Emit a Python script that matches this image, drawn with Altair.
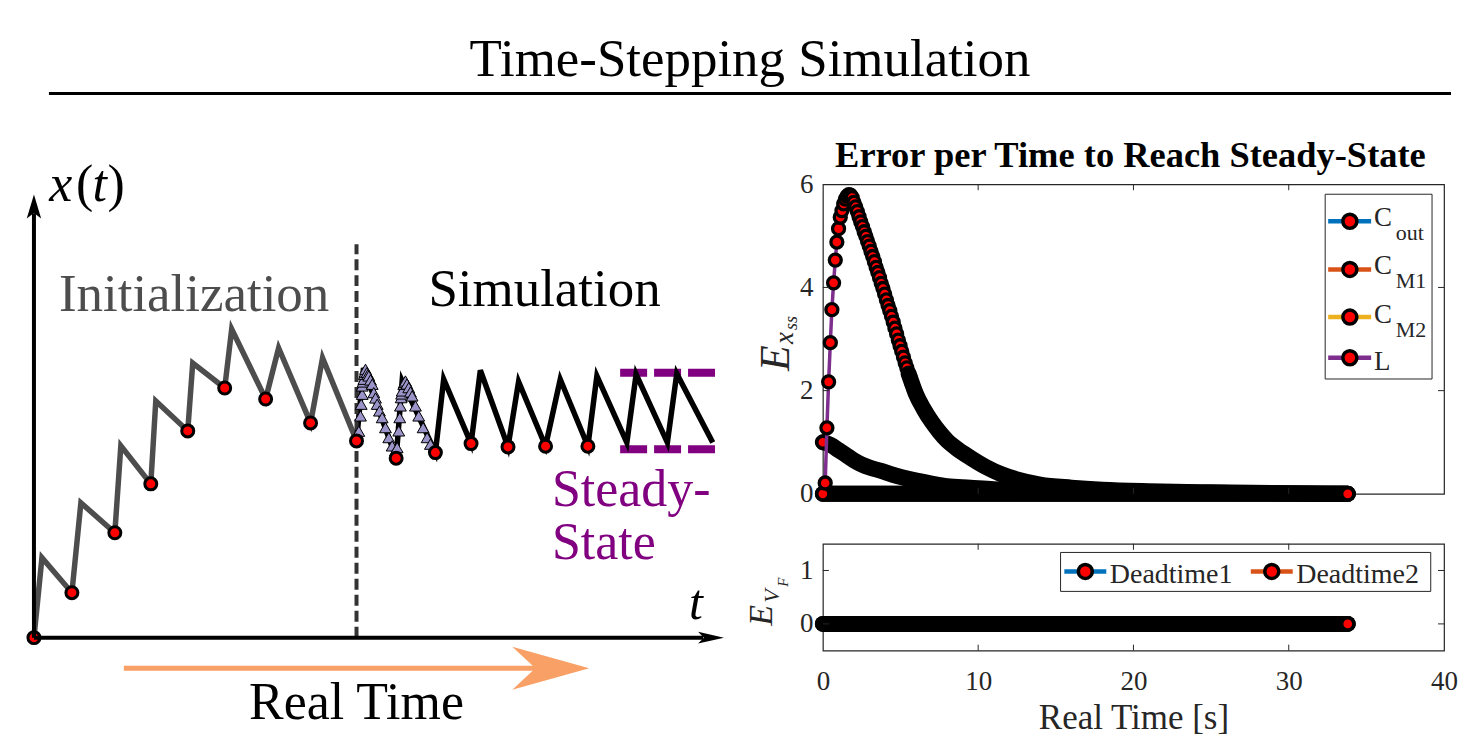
import altair as alt
import pandas as pd

FONT = "Liberation Serif"
INK = "#262626"

# ---------------- left schematic (u = horizontal, w = vertical, schematic units) ----------------
init_u = [0, 8, 38, 47, 81, 87, 117, 122, 154, 159, 191, 198, 232, 245, 277, 289, 323]
init_w = [0, 80, 45, 135, 105, 192, 154, 237, 207, 275, 250, 309, 239, 290, 215, 280, 197]

sim_u = [323, 330, 362.7, 368.7, 402, 410.3, 437.7, 447, 474.7, 485.3, 512.3, 527, 554.7,
         563.7, 593.7, 603, 634.3, 643.7, 679.7]
sim_w = [197, 270, 179.7, 257, 185.3, 258.7, 194.3, 267.7, 191, 256.3, 191.7, 258.7, 191.7,
         262, 195.3, 263.7, 195.3, 264.3, 195.3]

sample_u = [0, 38, 81, 117, 154, 191, 232, 277, 323, 362.7, 402, 437.7, 474.7, 512.3, 554.7]
sample_w = [0, 45, 105, 154, 207, 250, 239, 215, 197, 179.7, 185.3, 194.3, 191, 191.7, 191.7]

tri_u = [325.3, 327, 327.7, 328.7, 328.7, 329.5, 330.3, 331, 331.5, 332, 333.5, 334.5, 335.3, 337,
         338.7, 340.3, 342, 343.7, 346, 348.7, 352, 355.3, 358.7, 362,
         363.7, 365.3, 366.3, 367, 367.7, 368.2, 368.7, 370.3, 371, 372, 373.5, 375.3, 377, 378.7,
         382, 385.3, 389.7, 393.7, 397]
tri_w = [206.7, 222, 233.7, 243.7, 252, 256, 258.7, 263.7, 266, 268.7, 265.5, 263.5, 262, 258,
         253.7, 245.3, 240, 233.7, 227, 220.3, 210.3, 200.3, 192, 187,
         190.3, 207, 220.3, 232, 240.3, 244, 247, 253.7, 255.5, 257, 254, 250.3, 246, 242,
         232, 222, 210.3, 200.3, 193.7]

ss_u = [587, 684]          # steady-state band extent
ss_w = [265.3, 188.7]      # steady-state upper / lower levels
divider_u = 323
divider_w = [0, 394]

# ---------------- right: error per time ----------------
L_t = [0.00, 0.15, 0.26, 0.37, 0.48, 0.58, 0.69, 0.80, 0.90, 1.01, 1.12, 1.23, 1.34, 1.45, 1.56,
       1.67, 1.78, 1.89, 2.00, 2.11, 2.22, 2.33, 2.44, 2.55, 2.66, 2.77, 2.88, 2.99, 3.10, 3.21,
       3.32, 3.43, 3.54, 3.65, 3.76, 3.87, 3.98, 4.09, 4.20, 4.31, 4.42, 4.53, 4.64, 4.75, 4.86,
       4.97, 5.08, 5.19, 5.30, 5.41, 5.52, 5.63, 5.74, 5.85, 5.96]
L_v = [0.00, 0.21, 1.28, 2.17, 2.93, 3.57, 4.09, 4.53, 4.88, 5.14, 5.36, 5.49, 5.62, 5.71, 5.77,
       5.80, 5.79, 5.74, 5.65, 5.56, 5.47, 5.37, 5.27, 5.18, 5.08, 4.99, 4.89, 4.80, 4.70, 4.60,
       4.50, 4.39, 4.29, 4.19, 4.08, 3.98, 3.87, 3.76, 3.65, 3.55, 3.44, 3.33, 3.21, 3.10, 2.98,
       2.87, 2.76, 2.65, 2.54, 2.44, 2.33, 2.24, 2.14, 2.05, 1.96]
L_tail_t = [5.52, 5.74, 5.96, 6.5, 7.0, 7.5, 8.0, 8.7, 9.5, 10.5, 11.5, 12.5, 14.0, 16.0, 18.0,
            21.0, 25.0, 30.0, 33.8]
L_tail_v = [2.33, 2.14, 1.96, 1.64, 1.40, 1.20, 1.03, 0.86, 0.70, 0.52, 0.38, 0.28, 0.18, 0.12,
            0.08, 0.05, 0.03, 0.01, 0.0]

cout_t = [0, 0.5, 1.0, 1.5, 2.0, 2.5, 3.0, 3.7, 4.5, 5.8, 7.0, 8.0, 9.5, 11.0, 14.0, 18.0, 25.0, 33.8]
cout_v = [1.0, 0.95, 0.85, 0.75, 0.65, 0.57, 0.51, 0.45, 0.37, 0.27, 0.2, 0.15, 0.12, 0.09, 0.06, 0.04, 0.02, 0.0]

flat_t = [0.0, 33.8]
cm1_v = [0.0, 0.0]
cm2_v = [0.0, 0.0]
dead1_v = [0.0, 0.0]
dead2_v = [0.0, 0.0]

top_series = ["C", "C", "C", "L"]
top_subs = ["out", "M1", "M2", ""]
top_colors = ["#0072BD", "#D95319", "#EDB120", "#7E2F8E"]
bot_series = ["Deadtime1", "Deadtime2"]
bot_colors = ["#0072BD", "#D95319"]

x_ticks = [0, 10, 20, 30, 40]
top_y_ticks = [0, 2, 4, 6]
bot_y_ticks = [0, 1]


# ---------------- helpers ----------------
def text_layer(txt, x, y, size, color="#000000", align="left", style="normal",
               weight="normal", angle=0):
    kw = dict(align=align, baseline="alphabetic", font=FONT, fontSize=size,
              fontStyle=style, fontWeight=weight, color=color)
    if angle:
        kw["angle"] = angle
    return alt.Chart(pd.DataFrame({"label": [txt]})).mark_text(**kw).encode(
        x=alt.value(x), y=alt.value(y), text="label:N")


def one_row():
    return pd.DataFrame({"k": [0]})


# ================= LEFT PANEL =================
lxs = alt.Scale(domain=[0, 700], nice=False, zero=False)
lys = alt.Scale(domain=[0, 454], nice=False, zero=False)


def LX(f):
    return alt.X(f, type="quantitative", scale=lxs, axis=None)


def LY(f):
    return alt.Y(f, type="quantitative", scale=lys, axis=None)


frame = alt.Chart(one_row()).mark_rect(fill="white", opacity=0).encode(
    x=alt.value(-33), x2=alt.value(1429), y=alt.value(-183), y2=alt.value(556))

title_rule = alt.Chart(one_row()).mark_rule(color="#000000", strokeWidth=3).encode(
    x=alt.value(15), x2=alt.value(1419), y=alt.value(-91))

ss_df = pd.DataFrame({"u0": [ss_u[0]] * 2, "u1": [ss_u[1]] * 2, "w": ss_w})
ss_layer = alt.Chart(ss_df).mark_rule(color="#800080", strokeWidth=8, strokeDash=[27, 7]).encode(
    x=LX("u0"), x2="u1", y=LY("w"))

div_df = pd.DataFrame({"u": [divider_u], "w0": [divider_w[0]], "w1": [divider_w[1]]})
div_layer = alt.Chart(div_df).mark_rule(color="#333333", strokeWidth=4, strokeDash=[11, 5]).encode(
    x=LX("u"), y=LY("w0"), y2="w1")

init_df = pd.DataFrame({"u": init_u, "w": init_w, "i": range(len(init_u))})
init_layer = alt.Chart(init_df).mark_line(color="#4d4d4d", strokeWidth=5.5, strokeJoin="miter").encode(
    x=LX("u"), y=LY("w"), order="i:Q")

sim_df = pd.DataFrame({"u": sim_u, "w": sim_w, "i": range(len(sim_u))})
sim_layer = alt.Chart(sim_df).mark_line(color="#000000", strokeWidth=5.5, strokeJoin="miter").encode(
    x=LX("u"), y=LY("w"), order="i:Q")

tri_df = pd.DataFrame({"u": tri_u, "w": tri_w})
tri_layer = alt.Chart(tri_df).mark_point(shape="triangle-up", filled=True, fill="#9A94C8",
                                         stroke="#000000", strokeWidth=1, size=140, opacity=1).encode(
    x=LX("u"), y=LY("w"))

samp_df = pd.DataFrame({"u": sample_u, "w": sample_w})
samp_layer = alt.Chart(samp_df).mark_point(shape="circle", filled=True, fill="#ff0000",
                                           stroke="#000000", strokeWidth=3, size=144, opacity=1).encode(
    x=LX("u"), y=LY("w"))

# axes arrows
yaxis_df = pd.DataFrame({"u": [0, 0], "w": [0, 425]})
yaxis_line = alt.Chart(yaxis_df).mark_line(color="#000000", strokeWidth=4).encode(x=LX("u"), y=LY("w"))
yhead = alt.Chart(pd.DataFrame({"u": [0], "w": [431.7]})).mark_point(
    shape="M0,-1L0.6,1L0,0.55L-0.6,1Z", filled=True, fill="#000000", size=576, opacity=1,
    strokeWidth=0).encode(x=LX("u"), y=LY("w"))
xaxis_df = pd.DataFrame({"u": [0, 670], "w": [0, 0]})
xaxis_line = alt.Chart(xaxis_df).mark_line(color="#000000", strokeWidth=4).encode(x=LX("u"), y=LY("w"))
xhead = alt.Chart(pd.DataFrame({"u": [678], "w": [0]})).mark_point(
    shape="M1,0L-1,-0.45L-0.55,0L-1,0.45Z", filled=True, fill="#000000", size=676, opacity=1,
    strokeWidth=0).encode(x=LX("u"), y=LY("w"))

rt_df = pd.DataFrame({"u": [90, 512], "w": [-30.7, -30.7]})
rt_line = alt.Chart(rt_df).mark_line(color="#F9A066", strokeWidth=5).encode(x=LX("u"), y=LY("w"))
rt_head = alt.Chart(pd.DataFrame({"u": [517.5], "w": [-30.7]})).mark_point(
    shape="M1,0L-1,-0.56L-0.4,0L-1,0.56Z", filled=True, fill="#F9A066", size=5929, opacity=1,
    strokeWidth=0).encode(x=LX("u"), y=LY("w"))

left_texts = [
    text_layer("Time-Stepping Simulation", 717, -108, 53, align="center"),
    text_layer("x", 15.3, 17, 52, style="italic"),
    text_layer("(", 42, 17, 52),
    text_layer("t", 58.7, 17, 52, style="italic"),
    text_layer(")", 73.7, 17, 52),
    text_layer("Initialization", 25, 127, 53, color="#4d4d4d"),
    text_layer("Simulation", 395, 122, 53),
    text_layer("Steady-", 518.7, 322, 52, color="#800080"),
    text_layer("State", 518.7, 375, 52, color="#800080"),
    text_layer("t", 656, 435, 50, style="italic"),
    text_layer("Real Time", 323, 535, 52, align="center"),
]

left = alt.layer(
    frame, title_rule, ss_layer, init_layer, sim_layer, div_layer, tri_layer, samp_layer,
    yaxis_line, yhead, xaxis_line, xhead, rt_line, rt_head, *left_texts
).properties(width=700, height=454, view=alt.ViewBackground(stroke="transparent"))

# ================= RIGHT TOP =================
TW, TH = 622, 310
xs = alt.Scale(domain=[0, 40], nice=False, zero=False)
ys_top = alt.Scale(domain=[0, 6], nice=False, zero=False)
top_y_axis = alt.Axis(values=top_y_ticks, labelFontSize=27, labelFont=FONT, labelColor=INK,
                      labelPadding=10, ticks=False, domain=False, grid=False, title=None)


def TX(f):
    return alt.X(f, type="quantitative", scale=xs, axis=None)


def TY(f):
    return alt.Y(f, type="quantitative", scale=ys_top, axis=top_y_axis)


band = dict(color="#000000", strokeWidth=16, strokeCap="round", strokeJoin="round")
marker = dict(shape="circle", filled=True, fill="#ff0000", stroke="#000000", strokeWidth=3.3,
              size=144, opacity=1)

zero_df = pd.DataFrame({"t": flat_t * 2, "v": cm1_v + cm2_v, "s": ["M1"] * 2 + ["M2"] * 2})
zero_band = alt.Chart(zero_df).mark_line(**band).encode(x=TX("t"), y=TY("v"), detail="s:N")

cout_df = pd.DataFrame({"t": cout_t, "v": cout_v})
cout_band = alt.Chart(cout_df).mark_line(interpolate="monotone", **band).encode(x=TX("t"), y=TY("v"))
cout_first = alt.Chart(cout_df.head(1)).mark_point(**marker).encode(x=TX("t"), y=TY("v"))

L_df = pd.DataFrame({"t": L_t, "v": L_v})
L_tail_df = pd.DataFrame({"t": L_tail_t, "v": L_tail_v})
L_line = alt.Chart(L_df).mark_line(color="#7E2F8E", strokeWidth=3.5).encode(x=TX("t"), y=TY("v"))
L_tail = alt.Chart(L_tail_df).mark_line(interpolate="monotone", **band).encode(x=TX("t"), y=TY("v"))
L_marks = alt.Chart(L_df).mark_point(**marker).encode(x=TX("t"), y=TY("v"))
zero_last = alt.Chart(zero_df.tail(1)).mark_point(**marker).encode(x=TX("t"), y=TY("v"))

tick_style = dict(color=INK, strokeWidth=1)
tx_df = pd.DataFrame({"t": x_ticks[1:-1]})
ty_df = pd.DataFrame({"v": top_y_ticks[1:-1]})
top_ticks = [
    alt.Chart(tx_df).mark_rule(**tick_style).encode(x=TX("t"), y=alt.value(0), y2=alt.value(6)),
    alt.Chart(tx_df).mark_rule(**tick_style).encode(x=TX("t"), y=alt.value(TH), y2=alt.value(TH - 6)),
    alt.Chart(ty_df).mark_rule(**tick_style).encode(y=TY("v"), x=alt.value(0), x2=alt.value(6)),
    alt.Chart(ty_df).mark_rule(**tick_style).encode(y=TY("v"), x=alt.value(TW), x2=alt.value(TW - 6)),
]

# legend (top)
top_leg = [alt.Chart(one_row()).mark_rect(fill="white", stroke=INK, strokeWidth=1).encode(
    x=alt.value(503), x2=alt.value(610), y=alt.value(10), y2=alt.value(195))]
row_y = [37, 85.3, 133, 173.7]
main_base = [42, 90.3, 138.7, 186.3]
sub_base = [56.3, 104.3, 152.7, 0]
for i in range(len(top_series)):
    top_leg.append(alt.Chart(one_row()).mark_rule(color=top_colors[i], strokeWidth=4.5).encode(
        x=alt.value(506), x2=alt.value(549), y=alt.value(row_y[i])))
    top_leg.append(alt.Chart(one_row()).mark_point(shape="circle", filled=True, fill="#ff0000",
                                                   stroke="#000000", strokeWidth=3.5, size=196,
                                                   opacity=1).encode(
        x=alt.value(527.7), y=alt.value(row_y[i])))
    top_leg.append(text_layer(top_series[i], 552, main_base[i], 27, color=INK))
    if top_subs[i]:
        top_leg.append(text_layer(top_subs[i], 573.7, sub_base[i], 22, color=INK))

top_texts = [
    text_layer("Error per Time to Reach Steady-State", 308, -17, 36.5, weight="bold", align="center"),
    text_layer("E", -34, 187, 42, style="italic", angle=270, color=INK),
    text_layer("x", -30, 160, 27, style="italic", angle=270, color=INK),
    text_layer("ss", -26, 146, 18, style="italic", angle=270, color=INK),
]

top = alt.layer(
    zero_band, cout_band, cout_first, L_line, L_marks, L_tail, zero_last,
    *top_ticks, *top_leg, *top_texts
).properties(width=TW, height=TH)

# ================= RIGHT BOTTOM =================
BH = 107
ys_bot = alt.Scale(domain=[-0.5, 1.5], nice=False, zero=False)
bot_x_axis = alt.Axis(values=x_ticks, labelFontSize=27, labelFont=FONT, labelColor=INK,
                      labelPadding=18, labelFlush=False, ticks=False, domain=False, grid=False,
                      title="Real Time [s]", titleFont=FONT, titleFontSize=35,
                      titleFontWeight="normal", titleColor=INK, titlePadding=6)
bot_y_axis = alt.Axis(values=bot_y_ticks, labelFontSize=27, labelFont=FONT, labelColor=INK,
                      labelPadding=10, ticks=False, domain=False, grid=False, title=None)


def BX(f):
    return alt.X(f, type="quantitative", scale=xs, axis=bot_x_axis)


def BY(f):
    return alt.Y(f, type="quantitative", scale=ys_bot, axis=bot_y_axis)


dead_df = pd.DataFrame({"t": flat_t * 2, "v": dead1_v + dead2_v, "s": ["D1"] * 2 + ["D2"] * 2})
dead_band = alt.Chart(dead_df).mark_line(**band).encode(x=BX("t"), y=BY("v"), detail="s:N")
dead_last = alt.Chart(dead_df.tail(1)).mark_point(**marker).encode(x=BX("t"), y=BY("v"))

by_df = pd.DataFrame({"v": bot_y_ticks})
bot_ticks = [
    alt.Chart(tx_df).mark_rule(**tick_style).encode(x=BX("t"), y=alt.value(0), y2=alt.value(6)),
    alt.Chart(tx_df).mark_rule(**tick_style).encode(x=BX("t"), y=alt.value(BH), y2=alt.value(BH - 6)),
    alt.Chart(by_df).mark_rule(**tick_style).encode(y=BY("v"), x=alt.value(0), x2=alt.value(6)),
    alt.Chart(by_df).mark_rule(**tick_style).encode(y=BY("v"), x=alt.value(TW), x2=alt.value(TW - 6)),
]

bot_leg = [alt.Chart(one_row()).mark_rect(fill="white", stroke=INK, strokeWidth=1).encode(
    x=alt.value(238), x2=alt.value(608.7), y=alt.value(8.7), y2=alt.value(47.7))]
leg_x0 = [241.8, 428.5]
for i in range(len(bot_series)):
    bot_leg.append(alt.Chart(one_row()).mark_rule(color=bot_colors[i], strokeWidth=4.5).encode(
        x=alt.value(leg_x0[i]), x2=alt.value(leg_x0[i] + 42), y=alt.value(27.7)))
    bot_leg.append(alt.Chart(one_row()).mark_point(shape="circle", filled=True, fill="#ff0000",
                                                   stroke="#000000", strokeWidth=3.5, size=196,
                                                   opacity=1).encode(
        x=alt.value(leg_x0[i] + 21), y=alt.value(27.7)))
    bot_leg.append(text_layer(bot_series[i], leg_x0[i] + 45.5, 39.3, 28, color=INK))

bot_texts = [
    text_layer("E", -51, 82, 34, style="italic", angle=270, color=INK),
    text_layer("V", -44, 59, 22, style="italic", angle=270, color=INK),
    text_layer("F", -35, 43, 15, style="italic", angle=270, color=INK),
]

bottom = alt.layer(dead_band, dead_last, *bot_ticks, *bot_leg, *bot_texts).properties(
    width=TW, height=BH)

right = alt.vconcat(top, bottom, spacing=50, bounds="flush")
chart = alt.hconcat(left, right, spacing=90, bounds="flush").properties(padding=0).configure_view(
    stroke=INK, strokeWidth=1.2
).configure_axis(labelFont=FONT, titleFont=FONT)

chart.save("out.html", embed_options={"renderer": "svg", "actions": False})
